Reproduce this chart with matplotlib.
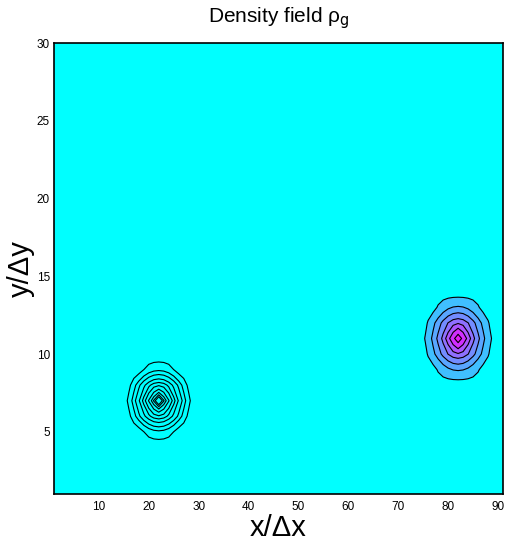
import matplotlib

matplotlib.use("Agg")
import matplotlib.pyplot as plt
import numpy as np

plt.rcParams["font.family"] = ["Liberation Sans", "DejaVu Sans"]

# grid (cell indices)
x_cells = np.arange(1, 92)
y_cells = np.arange(1, 31)

# blob parameters: centre, radius (x, y), peak
right_center = (82, 11)
right_radius = (7.5, 2.9)
right_peak = 1.0
right_levels = [0.107, 0.29, 0.43, 0.56, 0.667, 0.773, 0.907]
band_shade = [0.0, 0.25, 0.35, 0.45, 0.56, 0.67, 0.82, 0.9]

left_center = (22, 7)
left_radius = (7.1, 2.55)
left_peak = 1.0
left_levels = [0.11, 0.24, 0.34, 0.45, 0.54, 0.62, 0.71, 0.79, 0.85, 0.9]

x_ticks = [10, 20, 30, 40, 50, 60, 70, 80, 90]
y_ticks = [5, 10, 15, 20, 25, 30]


def blob(X, Y, center, radius, peak):
    r = np.sqrt(((X - center[0]) / radius[0]) ** 2
                + ((Y - center[1]) / radius[1]) ** 2)
    return peak * np.clip(1 - r, 0, None)


X, Y = np.meshgrid(x_cells, y_cells)
z_right = blob(X, Y, right_center, right_radius, right_peak)
z_left = blob(X, Y, left_center, left_radius, left_peak)

cmap = plt.get_cmap("cool")
fill_colors = [cmap(t) for t in band_shade]

fig = plt.figure(figsize=(5.05, 5.44), dpi=100)
ax = fig.add_axes([54 / 505, 50 / 544, 449 / 505, 451 / 544])

ax.contourf(X, Y, z_right, levels=[-1] + right_levels + [2], colors=fill_colors)
ax.contour(X, Y, z_right, levels=right_levels, colors="black", linewidths=0.8)
ax.contour(X, Y, z_left, levels=left_levels, colors="black", linewidths=0.8)

ax.set_xlim(1, 91)
ax.set_ylim(1, 30)
ax.set_xticks(x_ticks)
ax.set_yticks(y_ticks)
ax.tick_params(length=0, labelsize=8.5, pad=5)
ax.tick_params(axis="y", pad=3)
for s in ax.spines.values():
    s.set_linewidth(1.2)

ax.set_xlabel("x/\u0394x", fontsize=21, labelpad=1)
ax.set_ylabel("y/\u0394y", fontsize=21, labelpad=1)
ax.set_title("Density field \u03c1$_\\mathrm{g}$", fontsize=15, pad=15)

fig.savefig("out.png", dpi=100)
